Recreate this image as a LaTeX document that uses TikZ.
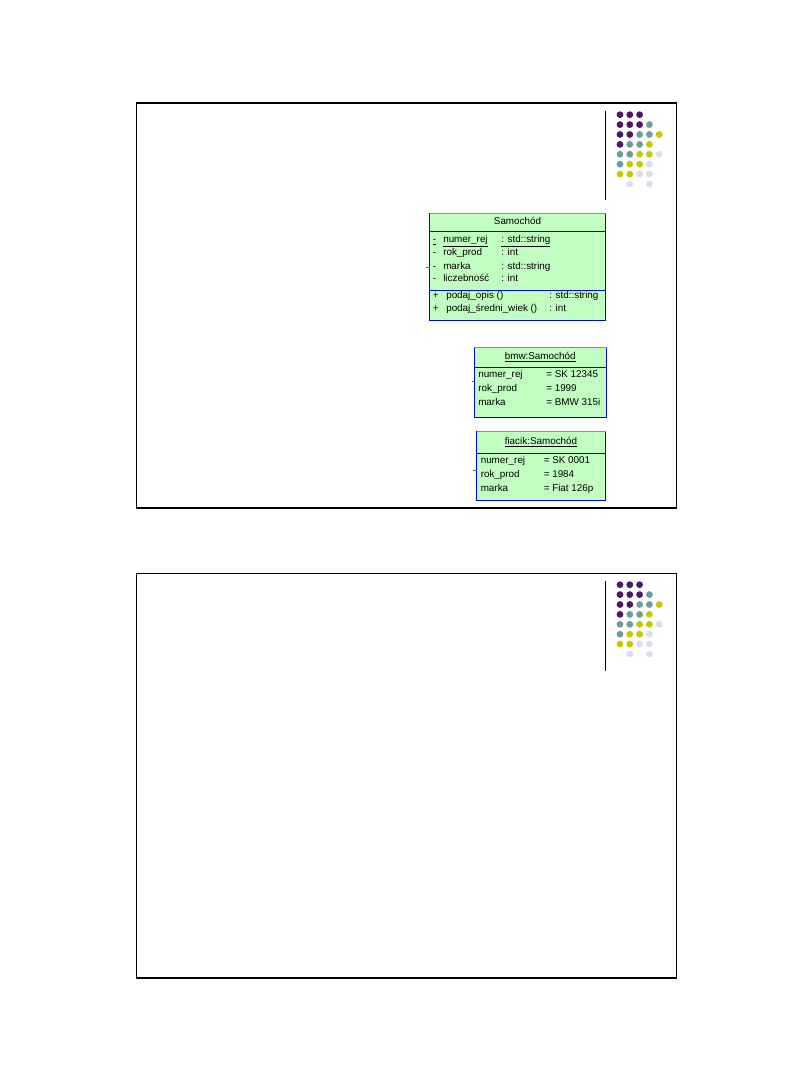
\documentclass[tikz,border=0pt]{standalone}
\usepackage{fontspec}
\setmainfont{Liberation Sans}
\begin{document}
\begin{tikzpicture}[x=0.75pt,y=-0.75pt]
\definecolor{dpurple}{HTML}{4A1769}
\definecolor{dteal}{HTML}{6A9E9E}
\definecolor{dyellow}{HTML}{C8C800}
\definecolor{dlav}{HTML}{DCDCF0}
\definecolor{umlfill}{HTML}{C0FFC0}
\definecolor{umlblue}{HTML}{0000E0}
\definecolor{umltop}{HTML}{8080FF}
\tikzset{
  frame/.style={draw=black,line width=1.3pt},
  sep/.style={draw=black,line width=0.8pt},
  umlbox/.style={draw=umlblue,fill=umlfill,line width=0.75pt,inner sep=0pt,outer sep=0pt},
  umlline/.style={draw=umlblue,line width=0.75pt},
  umltxt/.style={font=\fontsize{7.4pt}{8pt}\selectfont,inner sep=0pt,anchor=west,text height=5.6pt,text depth=1.6pt},
  umltitle/.style={font=\fontsize{7.4pt}{8pt}\selectfont,inner sep=0pt,text height=5.6pt,text depth=1.6pt},
  tick/.style={draw=umlblue!70,line width=0.6pt},
  dot/.style={circle,inner sep=0pt,minimum size=5.1pt}
}
\useasboundingbox (0,0) rectangle (810,1080);
\fill[white] (0,0) rectangle (810,1080);

% slide frames
\node[frame,rectangle,minimum width=405pt,minimum height=303.4pt,anchor=north west] (slide1) at (135.5,102.5) {};
\node[frame,rectangle,minimum width=405pt,minimum height=303.4pt,anchor=north west] (slide2) at (135.5,572.5) {};

% vertical separators
\coordinate (v1a) at (605.5,111);
\coordinate (v1b) at (605.5,200);
\coordinate (v2a) at (605.5,581);
\coordinate (v2b) at (605.5,671);
\draw[sep] (v1a) -- (v1b);
\draw[sep] (v2a) -- (v2b);

% dot grids
\foreach \yo/\nm in {114.7/a,584.7/b}{
  \foreach \c/\r/\col in {0/0/dpurple,1/0/dpurple,2/0/dpurple,
      0/1/dpurple,1/1/dpurple,2/1/dpurple,3/1/dteal,
      0/2/dpurple,1/2/dpurple,2/2/dteal,3/2/dteal,4/2/dyellow,
      0/3/dpurple,1/3/dteal,2/3/dteal,3/3/dyellow,
      0/4/dteal,1/4/dteal,2/4/dyellow,3/4/dyellow,4/4/dlav,
      0/5/dteal,1/5/dyellow,2/5/dyellow,3/5/dlav,
      0/6/dyellow,1/6/dyellow,2/6/dlav,3/6/dlav,
      1/7/dlav,3/7/dlav}{
    \node[dot,fill=\col] (dot\nm\c\r) at ({620+9.8*\c},{\yo+9.9*\r}) {};
  }
}

% class Samochod
\node[umlbox,rectangle,minimum width=132pt,minimum height=80pt,anchor=north west] (cls) at (429.5,213.5) {};
\draw[umltop,line width=0.75pt] (cls.north west) -- (cls.north east);
\coordinate (c1l) at (429.5,232);
\coordinate (c1r) at (605.5,232);
\coordinate (c2l) at (429.5,291);
\coordinate (c2r) at (605.5,291);
\draw[umlline] (c1l) -- (c1r);
\draw[umlline] (c2l) -- (c2r);
\node[umltitle] (clst) at (517.5,221.5) {Samochód};
\node[umltxt] (a1v) at (432.5,240) {\underline{-}};
\node[umltxt] (a1n) at (443,240) {\underline{numer\_rej}};
\node[umltxt] (a1t) at (501,240) {\underline{: std::string}};
\node[umltxt] (a2v) at (432.5,253.3) {-};
\node[umltxt] (a2n) at (443,253.3) {rok\_prod};
\node[umltxt] (a2t) at (501,253.3) {: int};
\node[umltxt] (a3v) at (432.5,266.6) {-};
\node[umltxt] (a3n) at (443,266.6) {marka};
\node[umltxt] (a3t) at (501,266.6) {: std::string};
\node[umltxt] (a4v) at (432.5,279.3) {-};
\node[umltxt] (a4n) at (443,279.3) {liczebność};
\node[umltxt] (a4t) at (501,279.3) {: int};
\node[umltxt] (m1v) at (432.5,296) {+};
\node[umltxt] (m1n) at (446,296) {podaj\_opis ()};
\node[umltxt] (m1t) at (549,296) {: std::string};
\node[umltxt] (m2v) at (432.5,308.5) {+};
\node[umltxt] (m2n) at (446,308.5) {podaj\_średni\_wiek ()};
\node[umltxt] (m2t) at (549,308.5) {: int};
\coordinate (tk1) at (425.5,267.3);
\draw[tick] (tk1) -- (cls.west |- tk1);

% object bmw
\node[umlbox,rectangle,minimum width=99.4pt,minimum height=52.5pt,anchor=north west] (bmw) at (474,347) {};
\draw[umltop,line width=0.75pt] (bmw.north west) -- (bmw.north east);
\coordinate (b1l) at (474,367);
\coordinate (b1r) at (606.5,367);
\draw[umlline] (b1l) -- (b1r);
\node[umltitle] (bmwt) at (540.2,356.5) {\underline{bmw:Samochód}};
\node[umltxt] (b1n) at (478,374.5) {numer\_rej};
\node[umltxt] (b1t) at (546,374.5) {= SK 12345};
\node[umltxt] (b2n) at (478,388.5) {rok\_prod};
\node[umltxt] (b2t) at (546,388.5) {= 1999};
\node[umltxt] (b3n) at (478,402.5) {marka};
\node[umltxt] (b3t) at (546,402.5) {= BMW 315i};
\coordinate (tk2) at (472,381);
\draw[tick] (tk2) -- (bmw.west |- tk2);

% object fiacik
\node[umlbox,rectangle,minimum width=97pt,minimum height=51.4pt,anchor=north west] (fia) at (476.5,431.5) {};
\draw[umltop,line width=0.75pt] (fia.north west) -- (fia.north east);
\coordinate (f1l) at (476.5,453);
\coordinate (f1r) at (605.5,453);
\draw[umlline] (f1l) -- (f1r);
\node[umltitle] (fiat) at (541,442) {\underline{fiacik:Samochód}};
\node[umltxt] (f1n) at (480.5,460.5) {numer\_rej};
\node[umltxt] (f1t) at (543.5,460.5) {= SK 0001};
\node[umltxt] (f2n) at (480.5,475) {rok\_prod};
\node[umltxt] (f2t) at (543.5,475) {= 1984};
\node[umltxt] (f3n) at (480.5,489) {marka};
\node[umltxt] (f3t) at (543.5,489) {= Fiat 126p};
\coordinate (tk3) at (473,470);
\draw[tick] (tk3) -- (fia.west |- tk3);
\end{tikzpicture}
\end{document}
